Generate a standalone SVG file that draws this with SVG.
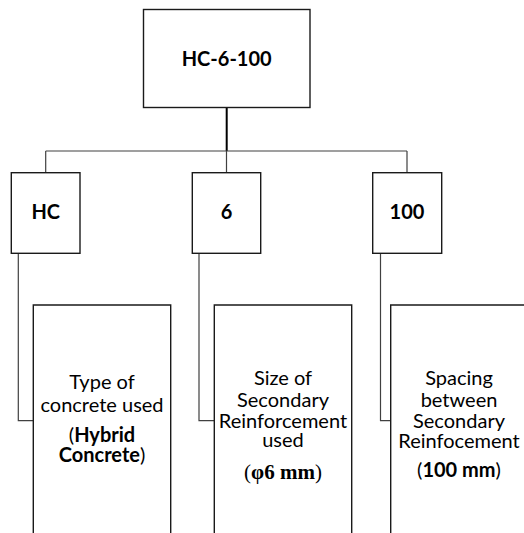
<svg xmlns="http://www.w3.org/2000/svg" width="524" height="533" viewBox="0 0 524 533">
<style>
.box{fill:#fff;stroke:#1a1a1a;stroke-width:1.4}
.con{fill:none;stroke:#404040;stroke-width:1.2}
.t{font-family:Lato,"Liberation Sans",sans-serif;font-size:20px;fill:#000;text-anchor:middle}
.b{font-weight:bold}
.s{font-family:"Liberation Serif",serif;font-size:21px}
</style>
<rect width="524" height="533" fill="#fff"/>
<g id="connectors">
<path class="con" d="M226.7 107.5V151" style="stroke:#000;stroke-width:2"/>
<path class="con" d="M45.7 151H407M45.7 151V172.7M226.5 151V172.7M407 151V172.7"/>
<path class="con" d="M18.3 253.3V420.7H33.3M199 253.3V420.7H214.3M380.5 253.3V420.7H390.7"/>
</g>
<g id="n-root">
<rect class="box" x="143.5" y="9.5" width="166.5" height="98"/>
<text class="t b" x="226.7" y="65.7">HC-6-100</text>
</g>
<g id="n-hc">
<rect class="box" x="11.3" y="172.7" width="68.7" height="80.6"/>
<text class="t b" x="45.7" y="219.3">HC</text>
</g>
<g id="n-6">
<rect class="box" x="192.3" y="172.7" width="68.4" height="80.6"/>
<text class="t b" x="226.5" y="219.3">6</text>
</g>
<g id="n-100">
<rect class="box" x="372.7" y="172.7" width="69" height="80.6"/>
<text class="t b" x="407" y="219.3">100</text>
</g>
<g id="d-hc">
<path class="box" d="M33.3 545V305H170.7V545"/>
<text class="t" x="102" y="389.3">Type of</text>
<text class="t" x="102" y="411.7">concrete used</text>
<text class="t" x="102" y="442.3">(<tspan class="b">Hybrid</tspan></text>
<text class="t" x="102" y="462.3"><tspan class="b">Concrete</tspan>)</text>
</g>
<g id="d-6">
<path class="box" d="M214.3 545V305H351.7V545"/>
<text class="t" x="283" y="385">Size of</text>
<text class="t" x="283" y="406.7">Secondary</text>
<text class="t" x="283" y="427.7">Reinforcement</text>
<text class="t" x="283" y="447.3">used</text>
<text class="t s" x="283" y="479">(<tspan class="b">φ6 mm</tspan>)</text>
</g>
<g id="d-100">
<path class="box" d="M390.7 545V305H535V545"/>
<text class="t" x="459" y="385">Spacing</text>
<text class="t" x="459" y="406.7">between</text>
<text class="t" x="459" y="427.7">Secondary</text>
<text class="t" x="459" y="448.3">Reinfocement</text>
<text class="t" x="459" y="476.7">(<tspan class="b">100 mm</tspan>)</text>
</g>
</svg>
